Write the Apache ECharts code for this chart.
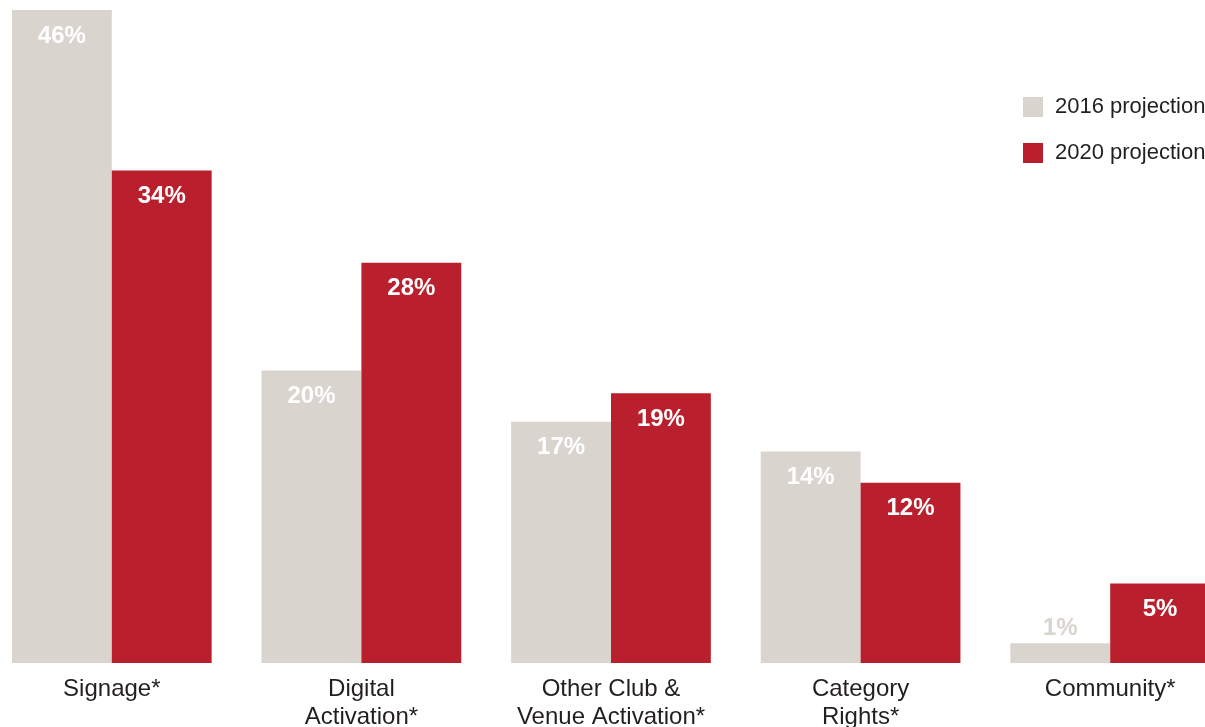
<!DOCTYPE html>
<html>
<head>
<meta charset="utf-8">
<script src="https://cdn.jsdelivr.net/npm/echarts@6/dist/echarts.min.js"></script>
<style>
html,body{margin:0;padding:0;background:#fff;}
#chart{width:1205px;height:727px;}
</style>
</head>
<body>
<div id="chart"></div>
<script>
const categories = ['Signage*', 'Digital\nActivation*', 'Other Club &\nVenue Activation*', 'Category\nRights*', 'Community*'];
const seriesNames = ['2016 projection', '2020 projection'];
// bar heights (labels show the whole-number part)
const values2016 = [46.0, 20.6, 17.0, 14.9, 1.4];
const values2020 = [34.7, 28.2, 19.0, 12.7, 5.6];

const GRAY = '#d9d4ce';
const RED = '#b91f2c';
const FONT = '"Liberation Sans", Arial, Helvetica, sans-serif';

function buildData(vals, barColor) {
  return vals.map(v => {
    if (v < 3) {
      return { value: v, label: { position: 'top', distance: 3, color: barColor } };
    }
    return v;
  });
}

const labelBase = {
  show: true,
  position: 'insideTop',
  distance: 14,
  color: '#ffffff',
  fontFamily: FONT,
  fontWeight: 'bold',
  fontSize: 24,
  lineHeight: 24,
  formatter: p => Math.floor(p.value) + '%'
};

const chart = echarts.init(document.getElementById('chart'), null, { renderer: 'canvas' });
chart.setOption({
  animation: false,
  backgroundColor: '#ffffff',
  grid: { left: -13, right: -30, top: 10, bottom: 64, containLabel: false, outerBoundsMode: 'none' },
  legend: {
    orient: 'vertical',
    left: 1023,
    top: 96,
    padding: 0,
    itemWidth: 20,
    itemHeight: 20,
    itemGap: 24,
    icon: 'rect',
    textStyle: { fontFamily: FONT, fontSize: 22, color: '#231f20', padding: [0, 0, 0, 7] },
    data: seriesNames
  },
  xAxis: {
    type: 'category',
    data: categories,
    axisLine: { show: false },
    axisTick: { show: false },
    axisLabel: {
      fontFamily: FONT,
      fontSize: 24,
      lineHeight: 28,
      color: '#231f20',
      margin: 12,
      interval: 0,
      hideOverlap: false
    }
  },
  yAxis: {
    type: 'value',
    min: 0,
    max: 46,
    show: false,
    splitLine: { show: false }
  },
  series: [
    {
      name: seriesNames[0],
      type: 'bar',
      data: buildData(values2016, GRAY),
      itemStyle: { color: GRAY },
      barGap: '0%',
      barCategoryGap: '20%',
      label: labelBase
    },
    {
      name: seriesNames[1],
      type: 'bar',
      data: buildData(values2020, RED),
      itemStyle: { color: RED },
      barGap: '0%',
      barCategoryGap: '20%',
      label: labelBase
    }
  ]
});
</script>
</body>
</html>
